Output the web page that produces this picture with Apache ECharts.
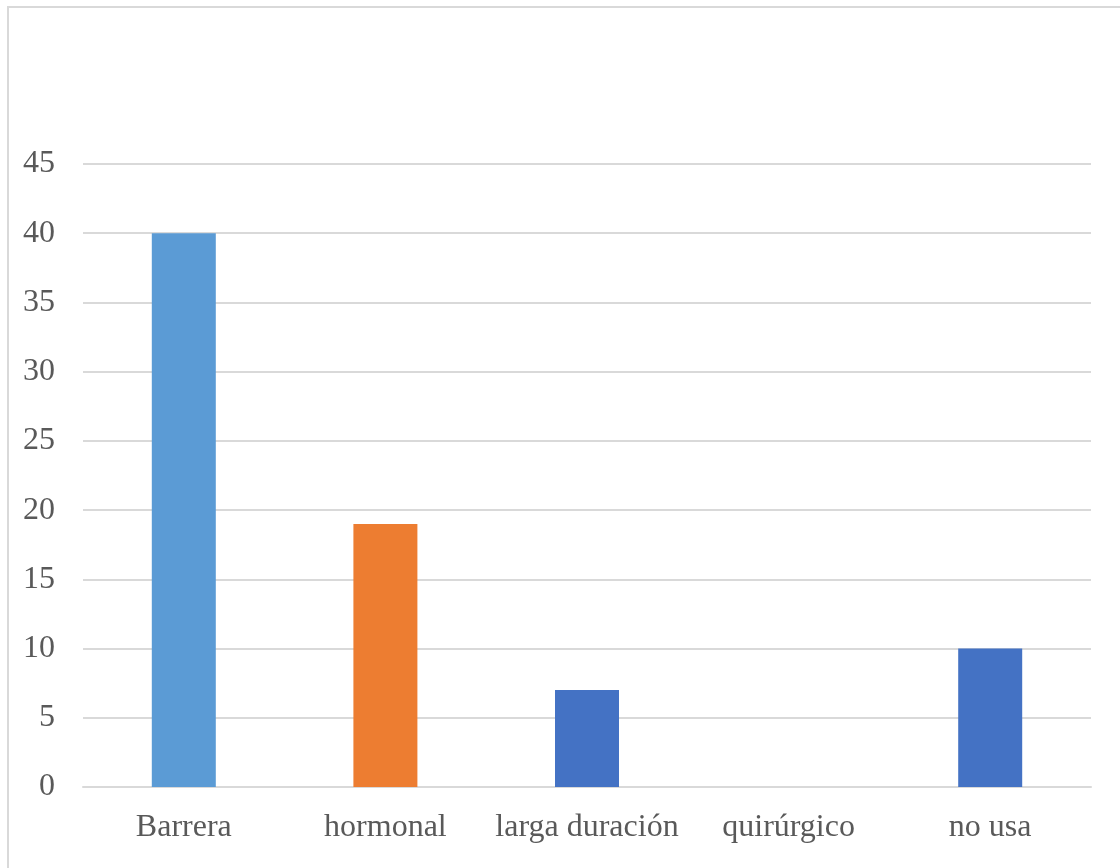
<!DOCTYPE html>
<html>
<head>
<meta charset="utf-8">
<script src="https://cdn.jsdelivr.net/npm/echarts@6/dist/echarts.min.js"></script>
<style>
html,body{margin:0;padding:0;background:#fff;}
#chart{width:1120px;height:868px;}
</style>
</head>
<body>
<div id="chart"></div>
<script>
const categories = ['Barrera', 'hormonal', 'larga duración', 'quirúrgico', 'no usa'];
const values = [40, 19, 7, 0, 10];
const barColors = ['#5B9BD5', '#ED7D31', '#4472C4', '#4472C4', '#4472C4'];
const yMin = 0, yMax = 45, yStep = 5;

const chart = echarts.init(document.getElementById('chart'), null, {renderer: 'canvas'});
const font = '"Liberation Serif", "Times New Roman", serif';
chart.setOption({
  backgroundColor: '#ffffff',
  animation: false,
  graphic: [{
    type: 'rect',
    shape: {x: 8, y: 7, width: 1300, height: 1000},
    style: {fill: 'none', stroke: '#d9d9d9', lineWidth: 2},
    silent: true,
    z: -1
  }],
  grid: {left: 83, right: 29, top: 164, bottom: 81, containLabel: false},
  xAxis: {
    type: 'category',
    data: categories,
    axisLine: {show: true, lineStyle: {color: '#d9d9d9', width: 2}},
    axisTick: {show: false},
    axisLabel: {color: '#595959', fontFamily: font, fontSize: 32, margin: 25, interval: 0}
  },
  yAxis: {
    type: 'value',
    min: yMin, max: yMax, interval: yStep,
    axisLine: {show: false},
    axisTick: {show: false},
    splitLine: {lineStyle: {color: '#d9d9d9', width: 2}},
    axisLabel: {color: '#595959', fontFamily: font, fontSize: 32, margin: 28}
  },
  series: [{
    type: 'bar',
    barWidth: 64,
    data: values.map((v, i) => ({value: v, itemStyle: {color: barColors[i]}}))
  }]
});
</script>
</body>
</html>
